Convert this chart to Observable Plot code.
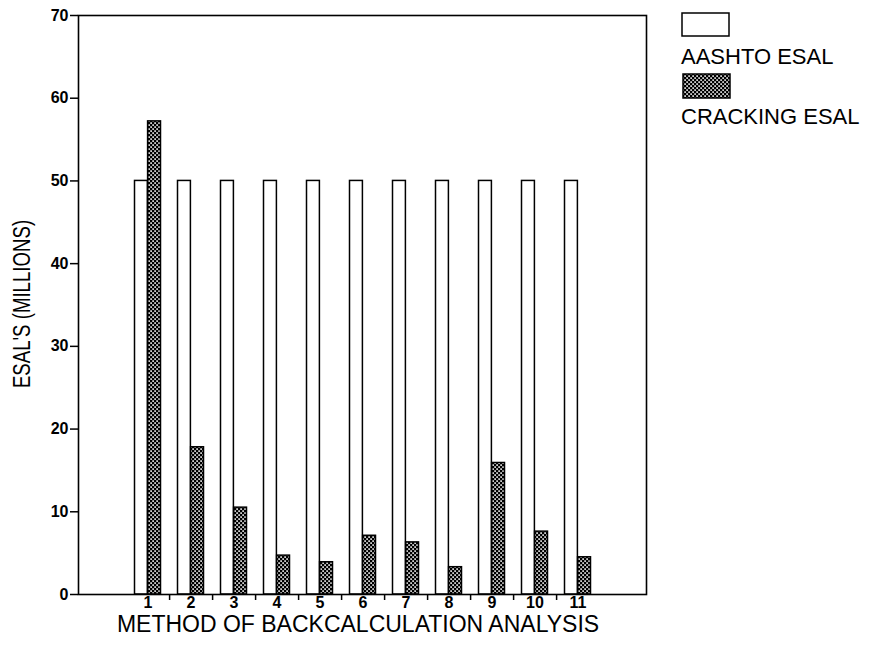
<!DOCTYPE html>
<html>
<head>
<meta charset="utf-8">
<script src="https://cdn.jsdelivr.net/npm/d3@7"></script>
<script src="https://cdn.jsdelivr.net/npm/@observablehq/plot@0.6"></script>
<style>
  html, body { margin: 0; padding: 0; background: #fff; }
  #wrap { position: relative; width: 875px; height: 649px; font-family: "Liberation Sans", Arial, Helvetica, sans-serif; color: #000; overflow: hidden; }
  #wrap > svg.plot { position: absolute; left: 0; top: 0; }
  .lbl { position: absolute; white-space: nowrap; line-height: 1; }
  #xtitle { left: 0; width: 716px; text-align: center; top: 613px; font-size: 23px; }
  #ytitle { left: 22px; top: 304px; font-size: 23px; transform: translate(-50%, -50%) rotate(-90deg) scaleX(0.81); }
  .legtext { font-size: 22px; left: 681px; }
  .sw { position: absolute; }
</style>
</head>
<body>
<svg width="0" height="0" style="position:absolute">
  <defs>
    <pattern id="xhatch" width="4" height="4" patternUnits="userSpaceOnUse">
      <rect width="4" height="4" fill="#000"/>
      <rect x="0.3" y="0.3" width="1.6" height="1.6" fill="#fff"/>
      <rect x="2.3" y="2.3" width="1.6" height="1.6" fill="#fff"/>
    </pattern>
  </defs>
</svg>
<div id="wrap"></div>
<script>
// ---- data ----
const methods = [1, 2, 3, 4, 5, 6, 7, 8, 9, 10, 11];
const aashtoEsal = [50, 50, 50, 50, 50, 50, 50, 50, 50, 50, 50];
const crackingEsal = [57.2, 17.8, 10.5, 4.7, 3.9, 7.1, 6.3, 3.3, 15.9, 7.6, 4.5];
const seriesNames = ["AASHTO ESAL", "CRACKING ESAL"];
const yTicks = [0, 10, 20, 30, 40, 50, 60, 70];
const xTitle = "METHOD OF BACKCALCULATION ANALYSIS";
const yTitle = "ESAL'S (MILLIONS)";

const aRows = methods.map((m, i) => ({method: m, value: aashtoEsal[i], series: seriesNames[0]}));
const cRows = methods.map((m, i) => ({method: m, value: crackingEsal[i], series: seriesNames[1]}));

const chart = Plot.plot({
  width: 875,
  height: 649,
  marginTop: 15,
  marginBottom: 55,
  marginLeft: 78,
  marginRight: 229,
  style: {fontFamily: '"Liberation Sans", Arial, Helvetica, sans-serif', background: "transparent", color: "#000"},
  x: {type: "band", domain: methods, paddingInner: 0, paddingOuter: 1.05},
  y: {domain: [0, 70]},
  marks: [
    Plot.barY(aRows, {x: "method", y: "value", fill: "white", stroke: "black", strokeWidth: 1.5, insetLeft: 8.5, insetRight: 21.6}),
    Plot.barY(cRows, {x: "method", y: "value", fill: "url(#xhatch)", stroke: "black", strokeWidth: 1.5, insetLeft: 21.6, insetRight: 8.5}),
    Plot.frame({stroke: "black", strokeWidth: 1.6}),
    Plot.axisY({ticks: yTicks, tickSize: 8, tickPadding: 2, strokeWidth: 1.5, label: null}),
    Plot.axisX({tickSize: 0, tickPadding: 2, label: null}),
    Plot.axisX({ticks: methods.slice(0, -1), text: null, tickSize: 6, dx: 21.6, strokeWidth: 1.5, label: null})
  ]
});
chart.classList.add("plot");
// enlarge & embolden tick labels
d3.select(chart).selectAll("text")
  .style("font-size", "16px")
  .style("font-weight", "bold")
  .style("font-family", '"Liberation Sans", Arial, Helvetica, sans-serif');
const wrap = document.getElementById("wrap");
wrap.appendChild(chart);

function addLabel(id, cls, text, styles) {
  const d = document.createElement("div");
  if (id) d.id = id;
  d.className = "lbl " + (cls || "");
  d.textContent = text;
  Object.assign(d.style, styles || {});
  wrap.appendChild(d);
}
addLabel("xtitle", "", xTitle);
addLabel("ytitle", "", yTitle);

// legend
const ns = "http://www.w3.org/2000/svg";
function swatch(left, top, w, h, fill) {
  const s = document.createElementNS(ns, "svg");
  s.setAttribute("width", w + 2);
  s.setAttribute("height", h + 2);
  s.setAttribute("class", "sw");
  s.style.left = (left - 1) + "px";
  s.style.top = (top - 1) + "px";
  const r = document.createElementNS(ns, "rect");
  r.setAttribute("x", 1); r.setAttribute("y", 1);
  r.setAttribute("width", w); r.setAttribute("height", h);
  r.setAttribute("fill", fill);
  r.setAttribute("stroke", "black");
  r.setAttribute("stroke-width", 1.5);
  s.appendChild(r);
  wrap.appendChild(s);
}
swatch(682, 13, 47, 23, "white");
addLabel(null, "legtext", seriesNames[0], {top: "46px"});
swatch(683, 74, 47, 24, "url(#xhatch)");
addLabel(null, "legtext", seriesNames[1], {top: "106px"});
</script>
</body>
</html>
